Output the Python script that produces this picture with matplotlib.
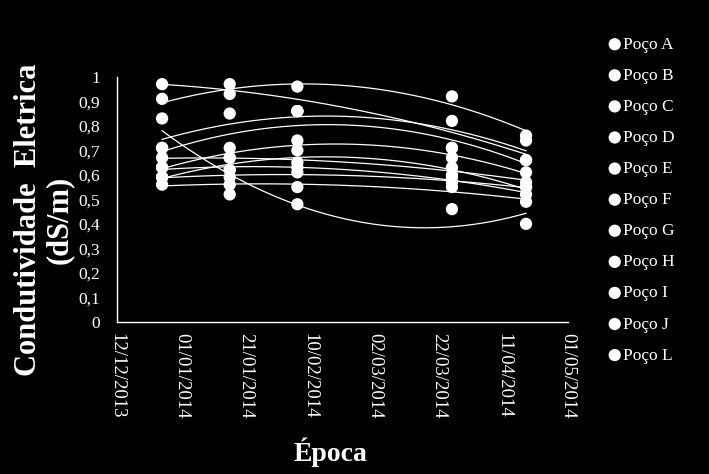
import numpy as np
import matplotlib.pyplot as plt
import matplotlib.dates as mdates
from datetime import datetime

plt.rcParams['font.family'] = ['Liberation Serif', 'DejaVu Serif']

# datas das coletas
datas = ['26/12/2013', '16/01/2014', '06/02/2014', '26/03/2014', '18/04/2014']

# condutividade eletrica (dS/m) por poco
poco_a = [0.97, 0.97, 0.86, 0.82, 0.66]
poco_b = [0.91, 0.93, 0.96, 0.92, 0.76]
poco_c = [0.83, 0.52, 0.48, 0.46, 0.40]
poco_d = [0.71, 0.85, 0.86, 0.71, 0.74]
poco_e = [0.71, 0.71, 0.86, 0.71, 0.66]
poco_f = [0.63, 0.67, 0.74, 0.67, 0.61]
poco_g = [0.67, 0.67, 0.65, 0.63, 0.57]
poco_h = [0.59, 0.62, 0.70, 0.60, 0.55]
poco_i = [0.63, 0.62, 0.63, 0.59, 0.52]
poco_j = [0.59, 0.59, 0.61, 0.57, 0.55]
poco_l = [0.56, 0.56, 0.55, 0.55, 0.49]

nomes = ['Poço A', 'Poço B', 'Poço C', 'Poço D', 'Poço E', 'Poço F',
         'Poço G', 'Poço H', 'Poço I', 'Poço J', 'Poço L']
series = [poco_a, poco_b, poco_c, poco_d, poco_e, poco_f,
          poco_g, poco_h, poco_i, poco_j, poco_l]

ticks_x = ['12/12/2013', '01/01/2014', '21/01/2014', '10/02/2014',
           '02/03/2014', '22/03/2014', '11/04/2014', '01/05/2014']
ticks_y = np.arange(0, 1.01, 0.1)


def to_num(lista):
    return mdates.date2num([datetime.strptime(d, '%d/%m/%Y') for d in lista])


x = to_num(datas)
xt = to_num(ticks_x)

fig = plt.figure(figsize=(7.09, 4.74), dpi=100, facecolor='black')
ax = fig.add_axes([0.165, 0.321, 0.636, 0.517], facecolor='black')

# tendencia polinomial (ordem 2), como no Excel
x_fit = np.linspace(x[0], x[-1], 200)
for vals in series:
    coef = np.polyfit(x - x[0], vals, 2)
    ax.plot(x_fit, np.polyval(coef, x_fit - x[0]), color='white', lw=0.9, zorder=2)

for nome, vals in zip(nomes, series):
    ax.scatter(x, vals, s=78, color='white', edgecolors='none', label=nome, zorder=3)

ax.set_xlim(xt[0], xt[-1])
ax.set_ylim(0, 1)
ax.set_xticks(xt)
ax.set_xticklabels(ticks_x, rotation=-90, fontsize=13.5, color='white')
ax.set_yticks(ticks_y)
ax.set_yticklabels([('%.1f' % v).replace('.', ',').replace('0,0', '0').replace('1,0', '1')
                    for v in ticks_y], fontsize=12.5, color='white')
ax.tick_params(axis='x', length=0, pad=8)
ax.tick_params(axis='y', length=0, pad=12)

for s in ['top', 'right']:
    ax.spines[s].set_visible(False)
for s in ['left', 'bottom']:
    ax.spines[s].set_color('white')
    ax.spines[s].set_linewidth(1)

fig.text(0.04, 0.536, 'Condutividade  Eletrica', rotation=90, color='white',
         fontsize=22, fontweight='bold', ha='center', va='center')
fig.text(0.083, 0.536, '(dS/m)', rotation=90, color='white',
         fontsize=22, fontweight='bold', ha='center', va='center')
fig.text(0.466, 0.045, 'Época', color='white', fontsize=20, fontweight='bold',
         ha='center', va='center')

leg = fig.legend(loc='upper left', bbox_to_anchor=(0.845, 0.941), frameon=False,
                 fontsize=12.5, labelspacing=0.86, handlelength=0.8,
                 handletextpad=0.1, borderpad=0, scatterpoints=1)
for t in leg.get_texts():
    t.set_color('white')

fig.savefig('out.png', dpi=100, facecolor='black')
